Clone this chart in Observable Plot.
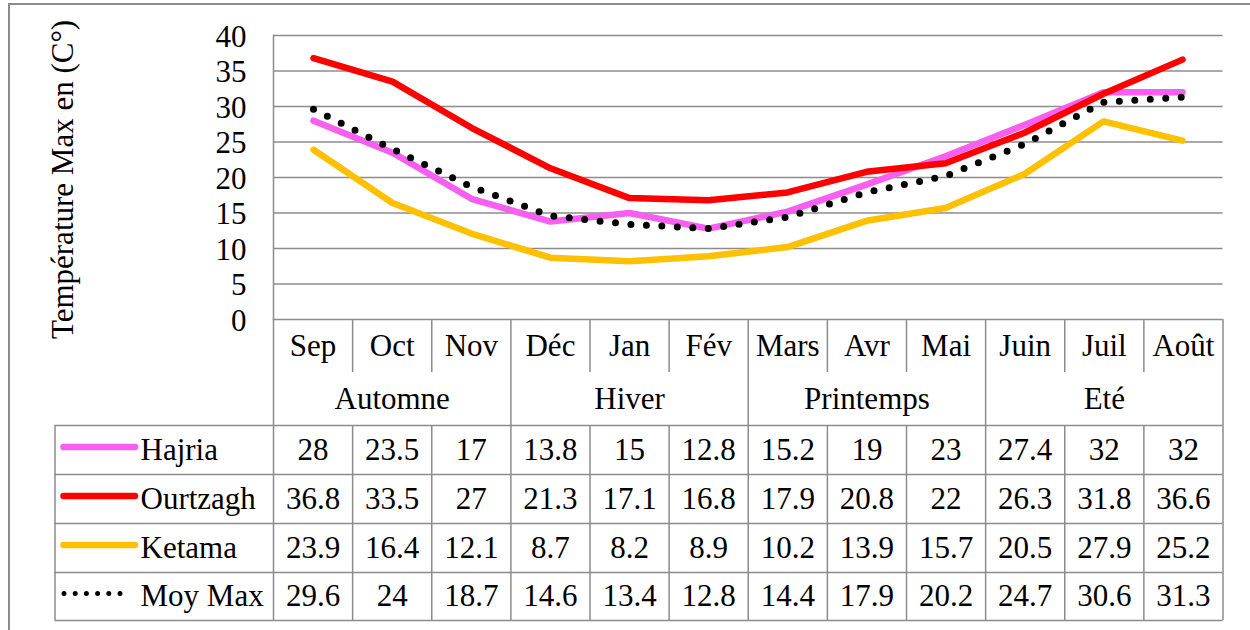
<!DOCTYPE html>
<html><head><meta charset="utf-8">
<script src="https://cdn.jsdelivr.net/npm/d3@7"></script>
<script src="https://cdn.jsdelivr.net/npm/@observablehq/plot@0.6"></script>
<style>
body{margin:0;background:#fff;overflow:hidden}
#wrap{position:relative;width:1250px;height:630px;overflow:hidden;background:#fff}
#wrap svg{position:absolute;left:0;top:0}
#frame{position:absolute;left:8px;top:2.5px;width:1260px;height:640px;border-left:2px solid #8c8c8c;border-top:2px solid #8c8c8c;pointer-events:none}
</style></head><body>
<div id="wrap"><div id="frame"></div></div>
<script>
// ---- data ----
const months = ["Sep","Oct","Nov","Déc","Jan","Fév","Mars","Avr","Mai","Juin","Juil","Août"];
const seasons = ["Automne","Hiver","Printemps","Eté"];
const seriesNames = ["Hajria","Ourtzagh","Ketama","Moy Max"];
const hajria   = [28,23.5,17,13.8,15,12.8,15.2,19,23,27.4,32,32];
const ourtzagh = [36.8,33.5,27,21.3,17.1,16.8,17.9,20.8,22,26.3,31.8,36.6];
const ketama   = [23.9,16.4,12.1,8.7,8.2,8.9,10.2,13.9,15.7,20.5,27.9,25.2];
const moyMax   = [29.6,24,18.7,14.6,13.4,12.8,14.4,17.9,20.2,24.7,30.6,31.3];
const yTicks = [0,5,10,15,20,25,30,35,40];
const yLabel = "Température Max en (C°)";

// ---- styling ----
const W = 1250, H = 630;
const font = "'Liberation Serif','Times New Roman',serif";
const grid = "#8c8c8c";
const colors = ["#f65ff0","#ff0000","#ffc000","#000000"];
const seriesValues = [hajria, ourtzagh, ketama, moyMax];

const long = seriesNames.flatMap((name, s) =>
  seriesValues[s].map((v, i) => ({series: name, s, i, month: months[i], value: v})));

const lineMarks = seriesNames.map((name, s) => {
  const data = long.filter(d => d.s === s);
  if (name === "Moy Max") {
    return Plot.line(data, {x: "month", y: "value", stroke: colors[s], strokeWidth: 7,
      strokeDasharray: "0 15.5", strokeLinecap: "round", strokeLinejoin: "round"});
  }
  return Plot.line(data, {x: "month", y: "value", stroke: colors[s], strokeWidth: 6.5,
    strokeLinecap: "round", strokeLinejoin: "round"});
});

const chart = Plot.plot({
  width: W, height: H,
  marginLeft: 273, marginRight: 27.5, marginTop: 35, marginBottom: 311,
  style: {fontFamily: font, fontSize: "31px", color: "#000", background: "transparent"},
  x: {type: "point", domain: months, padding: 0.5, axis: null},
  y: {domain: [0, 40], label: null},
  marks: [
    Plot.gridY(yTicks, {stroke: grid, strokeOpacity: 1, strokeWidth: 1.5}),
    Plot.frame({anchor: "left", stroke: grid, strokeOpacity: 1, strokeWidth: 1.5}),
    Plot.axisY(yTicks, {tickSize: 0, tickPadding: 27, label: null, fontSize: 31, fill: "#000", dy: 1.5}),
    ...lineMarks,
    Plot.text([yLabel], {text: d => d, frameAnchor: "left", rotate: -90, dx: -201, dy: 2,
      textAnchor: "middle", lineAnchor: "bottom", fontSize: 31, fill: "#000"})
  ]
});

// ---- data table (drawn with Plot on index scales) ----
const rowRuleTop = d3.range(0, 13);
const seasonRules = seasons.map((d, k) => 3 * k).concat([12]);
const bodyRules = d3.range(-1, 13);
const hRules = [2, 3, 4, 5, 6];

const swatchMarks = seriesNames.map((name, s) => {
  if (name === "Moy Max") {
    return Plot.ruleY([name], {y: () => 2.5 + s, x1: -1, x2: 0, insetLeft: 9.5, insetRight: 152.5,
      dy: -3, stroke: colors[s], strokeWidth: 5, strokeDasharray: "0 11.2", strokeLinecap: "round"});
  }
  return Plot.ruleY([name], {y: () => 2.5 + s, x1: -1, x2: 0, insetLeft: 9, insetRight: 138,
    dy: -3, stroke: colors[s], strokeWidth: 6.5, strokeLinecap: "round"});
});

const table = Plot.plot({
  width: W, height: H,
  style: {fontFamily: font, fontSize: "31px", color: "#000", background: "transparent"},
  x: {type: "linear", domain: [-1, 0, 12], range: [54.5, 273, 1222.5], axis: null},
  y: {type: "linear", domain: [0, 1, 2, 3, 4, 5, 6], range: [319, 372, 425, 474, 523, 572, 620], axis: null},
  marks: [
    Plot.ruleX(rowRuleTop, {x: d => d, y1: 0, y2: 1, stroke: grid, strokeWidth: 1.5}),
    Plot.ruleX(seasonRules, {x: d => d, y1: 1, y2: 2, stroke: grid, strokeWidth: 1.5}),
    Plot.ruleX(bodyRules, {x: d => d, y1: 2, y2: 6, stroke: grid, strokeWidth: 1.5}),
    Plot.ruleY(hRules, {y: d => d, x1: -1, x2: 12, stroke: grid, strokeWidth: 1.5}),
    Plot.text(months, {x: (d, i) => i + 0.5, y: () => 0.5, text: d => d, fontSize: 31, fill: "#000"}),
    Plot.text(seasons, {x: (d, i) => 3 * i + 1.5, y: () => 1.5, text: d => d, fontSize: 31, fill: "#000"}),
    Plot.text(long, {x: d => d.i + 0.5, y: d => 2.5 + d.s, text: d => String(d.value), fontSize: 31, fill: "#000"}),
    ...swatchMarks,
    Plot.text(seriesNames, {x: () => -1, y: (d, i) => 2.5 + i, text: d => d, dx: 85.5,
      textAnchor: "start", fontSize: 31, fill: "#000"})
  ]
});

const wrap = document.getElementById("wrap");
wrap.appendChild(table);
wrap.appendChild(chart);
</script>
</body></html>
